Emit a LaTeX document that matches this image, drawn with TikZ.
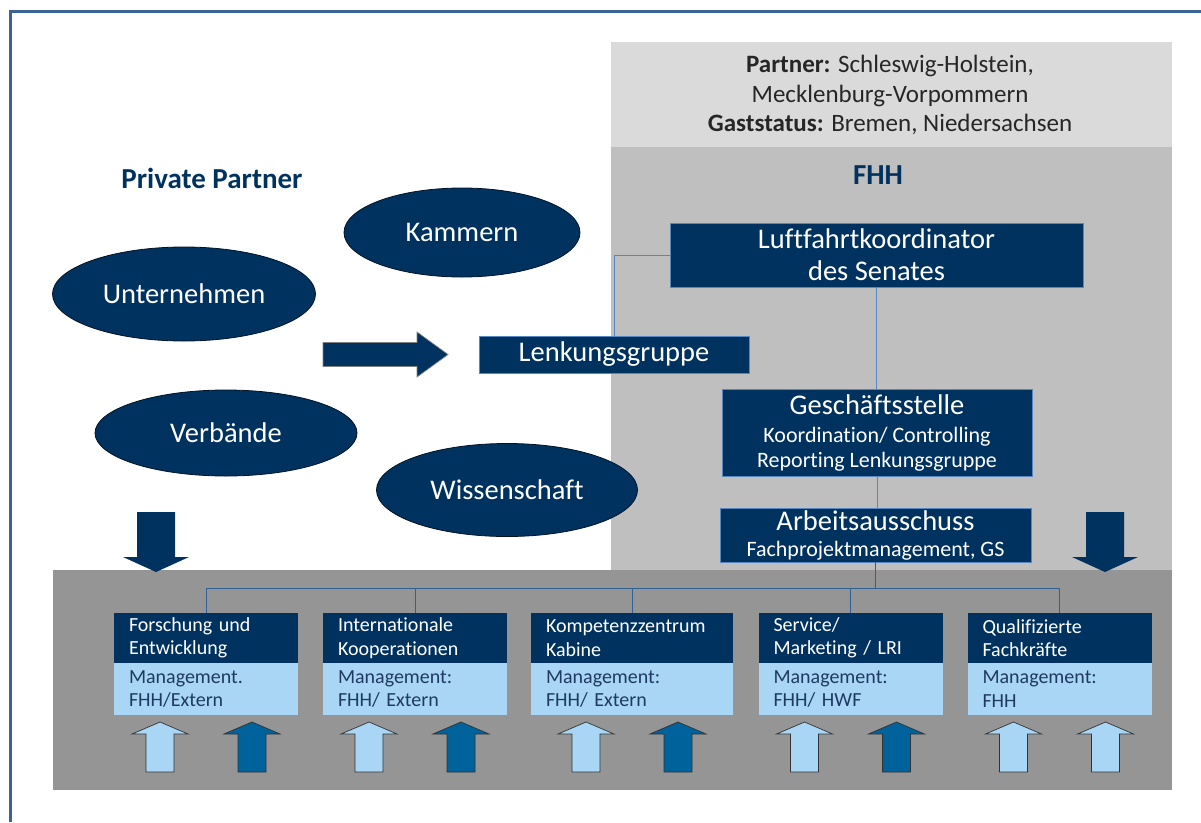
\documentclass[tikz,border=0pt]{standalone}
\usepackage{fontspec}
\setmainfont{Carlito}[Ligatures=NoCommon]
\usetikzlibrary{positioning, shapes.geometric}
\definecolor{navy}{HTML}{00325F}
\definecolor{frameblue}{HTML}{3B6396}
\definecolor{linkblue}{HTML}{5A86BF}
\definecolor{paleblue}{HTML}{A8D6F4}
\definecolor{deepblue}{HTML}{00629B}
\definecolor{greyA}{HTML}{DADADA}
\definecolor{greyB}{HTML}{BFBFBF}
\definecolor{greyC}{HTML}{959595}
\definecolor{inktext}{HTML}{1F3A60}

\begin{document}
\begin{tikzpicture}[x=1pt, y=-1pt,
    every node/.style={inner sep=0pt, outer sep=0pt},
    blob/.style={ellipse, fill=navy, draw=black!60!navy, line width=0.8pt, text=white, font=\fontsize{28.5}{32}\selectfont},
    navybox/.style={rectangle, fill=navy, draw=linkblue, line width=0.8pt, text=white, align=center, font=\fontsize{28.5}{32}\selectfont},
    taskhead/.style={rectangle, fill=navy, text=white, minimum width=184, minimum height=50, text width=154pt, align=left, font=\fontsize{20}{23.5}\selectfont},
    taskbody/.style={rectangle, fill=paleblue, text=inktext, minimum width=184, minimum height=52, text width=154pt, align=left, font=\fontsize{20}{23.5}\selectfont},
    link/.style={draw=linkblue, line width=1pt},
    buslink/.style={draw=linkblue!55!navy, line width=1pt},
    blockline/.style={draw=black!80, line width=0.7pt},
    upblock/.pic={\path[pic actions] (0,0) -- (28,12) -- (14,12) -- (14,50) -- (-14,50) -- (-14,12) -- (-28,12) -- cycle;},
    downblock/.pic={\path[pic actions] (-19,-60) -- (19,-60) -- (19,-15) -- (33,-15) -- (0,0) -- (-33,-15) -- (-19,-15) -- cycle;},
    rightblock/.pic={\path[pic actions] (-125,-12) -- (-31,-12) -- (-31,-22.5) -- (0,0) -- (-31,22.5) -- (-31,12) -- (-125,12) -- cycle;}
]
\useasboundingbox (0,0) rectangle (1201,822);
\draw[frameblue, line width=3pt] (10,822) -- (10,11) -- (1201,11);

\fill[greyA] (611,42) rectangle (1172,147);
\fill[greyB] (611,147) rectangle (1172,570);
\fill[greyC] (53,570) rectangle (1172,790);

\node[align=center, text=black!85, font=\fontsize{25}{29.5}\selectfont] (partner) at (890,95)
    {\textbf{Partner:} Schleswig-Holstein,\\Mecklenburg-Vorpommern\\\textbf{Gaststatus:} Bremen, Niedersachsen};
\node[text=navy, font=\fontsize{29}{32}\selectfont\bfseries] (private) at (212,178) {Private Partner};
\node[text=navy, font=\fontsize{29}{32}\selectfont\bfseries] (fhh) at (878,175) {FHH};

\node[blob, minimum width=236, minimum height=89] (kammern) at (462,232.5) {Kammern};
\node[blob, minimum width=263, minimum height=94] (unternehmen) at (184,294) {Unternehmen};
\node[blob, minimum width=262, minimum height=86] (verbaende) at (226,433) {Verbände};
\node[blob, minimum width=261, minimum height=93] (wissenschaft) at (507,490) {Wissenschaft};

\node[navybox, minimum width=270, minimum height=37] (lenk) at (614,354.5) {Lenkungsgruppe};
\node[navybox, minimum width=413, minimum height=64] (luft) at (876.5,255) {Luftfahrtkoordinator\\des Senates};
\node[navybox, minimum width=310, minimum height=87, font=\fontsize{22}{25}\selectfont] (gs) at (877,432.5)
    {{\fontsize{28.5}{30}\selectfont Geschäftsstelle}\\[3pt]Koordination/ Controlling\\Reporting Lenkungsgruppe};
\node[navybox, minimum width=311, minimum height=54, font=\fontsize{22}{25}\selectfont] (aa) at (875.5,535)
    {{\fontsize{28.5}{30}\selectfont Arbeitsausschuss}\\[1pt]Fachprojektmanagement, GS};

\pic[blockline, draw=black!50, fill=navy] at ([xshift=-31pt]lenk.west) {rightblock};
\pic[fill=navy] at (156,572) {downblock};
\pic[fill=navy] at (1105,572) {downblock};

\node[taskhead] (fe) at (206,638) {Forschung und\\Entwicklung};
\node[taskbody, below=0pt of fe] (fe-m) {Management.\\FHH/Extern};
\node[taskhead] (ik) at (415,638) {Internationale\\Kooperationen};
\node[taskbody, below=0pt of ik] (ik-m) {Management:\\FHH/ Extern};
\node[taskhead, minimum width=202, text width=172pt] (kk) at (632,638) {Kompetenzzentrum\\Kabine};
\node[taskbody, below=0pt of kk, minimum width=202, text width=172pt] (kk-m) {Management:\\FHH/ Extern};
\node[taskhead] (sm) at (850.5,638) {Service/\\Marketing / LRI};
\node[taskbody, below=0pt of sm] (sm-m) {Management:\\FHH/ HWF};
\node[taskhead] (qf) at (1059.5,638) {Qualifizierte\\Fachkräfte};
\node[taskbody, below=0pt of qf] (qf-m) {Management:\\FHH};

\draw[link] (lenk.north) |- (luft.west);
\draw[link] (luft.south) -- (luft.south |- gs.north);
\draw[link] (gs.south) -- (gs.south |- aa.north);
\coordinate (bus) at (aa.south |- 0,588);
\draw[buslink] (aa.south) -- (bus);
\foreach \t in {fe,ik,kk,sm,qf}
    \draw[buslink] (bus) -| (\t.north);

\foreach \t/\c in {fe/deepblue, ik/deepblue, kk/deepblue, sm/deepblue, qf/paleblue} {
    \pic[blockline, fill=paleblue] at ([xshift=-46pt, yshift=-7pt]\t-m.south) {upblock};
    \pic[blockline, fill=\c] at ([xshift=46pt, yshift=-7pt]\t-m.south) {upblock};
}
\end{tikzpicture}
\end{document}
